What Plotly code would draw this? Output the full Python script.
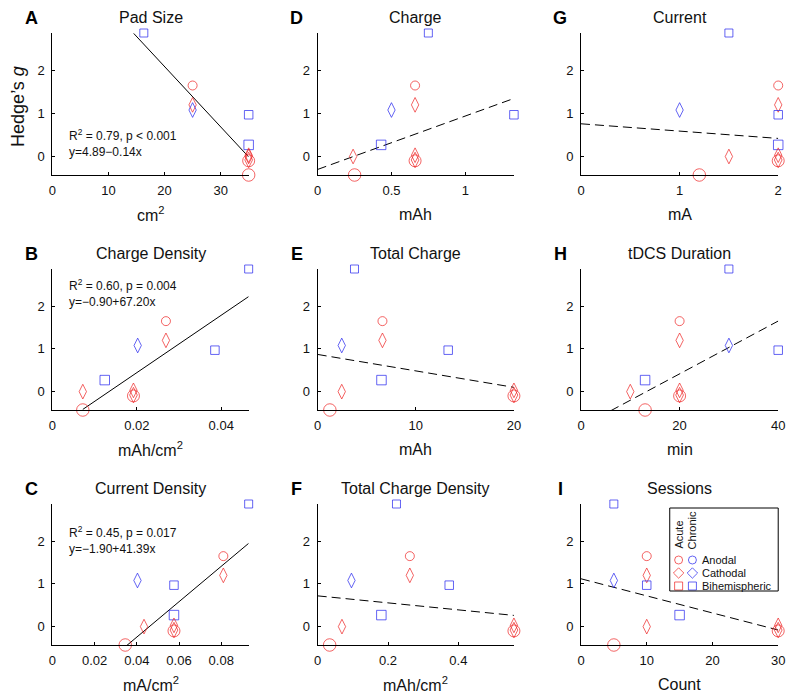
import plotly.graph_objects as go

# the page body adds an 8px margin, so the figure is 8px smaller each way
OFF = 8
W, H = 800 - OFF, 698 - OFF

# one entry per study
hedges_g = [2.87, 1.65, 1.20, 1.08, 0.97, 0.27, 0.00, 0.03, -0.10, -0.08, -0.43]
timing = ["Chronic", "Acute", "Acute", "Chronic", "Chronic", "Chronic",
          "Acute", "Acute", "Acute", "Acute", "Acute"]
montage = ["Bihemispheric", "Anodal", "Cathodal", "Cathodal", "Bihemispheric",
           "Bihemispheric", "Cathodal", "Cathodal", "Anodal", "Cathodal", "Anodal"]
marker_px = [8, 9, 10.5, 10.5, 8.5, 9.5, 10.5, 10.5, 12, 11, 12.5]

pad_size = [16.3, 25, 25, 25, 35, 35, 35, 35, 35, 35, 35]
charge_density = [0.0465, 0.0269, 0.0269, 0.0202, 0.0385, 0.0124, 0.0072, 0.0192, 0.0192, 0.0192, 0.0072]
current_density = [0.093, 0.081, 0.081, 0.0403, 0.0576, 0.0576, 0.0434, 0.0576, 0.0576, 0.0576, 0.0345]
charge = [0.75, 0.66, 0.66, 0.50, 1.33, 0.43, 0.24, 0.66, 0.66, 0.66, 0.25]
total_charge = [3.75, 6.6, 6.6, 2.45, 13.3, 6.5, 2.45, 20, 20, 20, 1.24]
total_charge_density = [0.224, 0.262, 0.262, 0.096, 0.374, 0.181, 0.069, 0.558, 0.558, 0.558, 0.034]
current = [1.5, 2, 2, 1, 2, 2, 1.5, 2, 2, 2, 1.2]
duration = [30, 20, 20, 30, 40, 13, 10, 20, 20, 20, 13]
sessions = [5, 10, 10, 5, 10, 15, 10, 30, 30, 30, 5]

# regression lines, panels A..I
fit_intercept = [4.89, -0.90, -1.90, -0.30, 0.87, 0.72, 0.76, -0.82, 1.12]
fit_slope = [-0.14, 67.20, 41.39, 1.24, -0.0385, -0.82, -0.17, 0.0618, -0.04]
fit_span = [(14.5, 35), (0.0072, 0.0465), (0.0345, 0.093), (0, 1.33), (0, 20),
            (0, 0.558), (0, 2), (6, 40), (0, 30)]
fit_stats = ["R<sup>2</sup> = 0.79, p < 0.001<br>y=4.89\u22120.14x",
             "R<sup>2</sup> = 0.60, p = 0.004<br>y=\u22120.90+67.20x",
             "R<sup>2</sup> = 0.45, p = 0.017<br>y=\u22121.90+41.39x",
             None, None, None, None, None, None]

letters = ["A", "B", "C", "D", "E", "F", "G", "H", "I"]
titles = ["Pad Size", "Charge Density", "Current Density", "Charge", "Total Charge",
          "Total Charge Density", "Current", "tDCS Duration", "Sessions"]
xlabels = ["cm<sup>2</sup>", "mAh/cm<sup>2</sup>", "mA/cm<sup>2</sup>", "mAh", "mAh",
           "mAh/cm<sup>2</sup>", "mA", "min", "Count"]
xdata = [pad_size, charge_density, current_density, charge, total_charge,
         total_charge_density, current, duration, sessions]
xranges = [(0, 35), (0, 0.0465), (0, 0.093), (0, 1.33), (0, 20), (0, 0.558), (0, 2), (0, 40), (0, 30)]
xticks = [[0, 10, 20, 30], [0, 0.02, 0.04], [0, 0.02, 0.04, 0.06, 0.08], [0, 0.5, 1],
          [0, 10, 20], [0, 0.2, 0.4], [0, 1, 2], [0, 20, 40], [0, 10, 20, 30]]
xticktext = [["0", "10", "20", "30"], ["0", "0.02", "0.04"], ["0", "0.02", "0.04", "0.06", "0.08"],
             ["0", "0.5", "1"], ["0", "10", "20"], ["0", "0.2", "0.4"], ["0", "1", "2"],
             ["0", "20", "40"], ["0", "10", "20", "30"]]
yticks = [0, 1, 2]

colors = {"Acute": "#ee2222", "Chronic": "#2222ee"}
symbols = {"Anodal": "circle-open", "Cathodal": "diamond-tall-open", "Bihemispheric": "square-open"}

# pixel layout of the 3x3 grid (page pixels)
cols_px = [(49, 248), (318, 517), (585, 785)]
rows_px = [(33, 175), (269, 410), (504, 645)]
stats_px = [(64, 143), (64, 293), (64, 540)]

FONT = "Liberation Sans, Arial, sans-serif"


def px(x):
    return (x - OFF) / W


def py(y):
    return 1 - (y - OFF) / H


def note(x, y, text, size, **kw):
    d = dict(x=px(x), y=py(y), text=text, showarrow=False, xref="paper", yref="paper",
             xanchor="center", yanchor="middle",
             font=dict(family=FONT, size=size, color="#111"))
    d.update(kw)
    return d


fig = go.Figure()
annotations = []
layout = {}

for i in range(9):
    col, row = i // 3, i % 3
    n = "" if i == 0 else str(i + 1)
    x0, x1 = cols_px[col]
    y0, y1 = rows_px[row]
    xa, ya = "x" + n, "y" + n

    layout["xaxis" + n] = dict(
        domain=[px(x0), px(x1)], range=list(xranges[i]), anchor=ya,
        showline=True, linecolor="black", linewidth=1, mirror=False,
        ticks="inside", ticklen=3, tickcolor="black",
        tickvals=xticks[i], ticktext=xticktext[i], showgrid=False, zeroline=False,
        tickfont=dict(family=FONT, size=13, color="#111"), ticklabelstandoff=3,
    )
    layout["yaxis" + n] = dict(
        domain=[py(y1), py(y0)], range=[-0.43, 2.87], anchor=xa,
        showline=True, linecolor="black", linewidth=1, mirror=False,
        ticks="inside", ticklen=3, tickcolor="black",
        tickvals=yticks, showgrid=False, zeroline=False,
        tickfont=dict(family=FONT, size=13, color="#111"), ticklabelstandoff=4,
    )

    # regression line
    lx = list(fit_span[i])
    ly = [fit_intercept[i] + fit_slope[i] * v for v in lx]
    fig.add_trace(go.Scatter(
        x=lx, y=ly, mode="lines", xaxis=xa, yaxis=ya, showlegend=False,
        line=dict(color="black", width=1, dash="solid" if fit_stats[i] else "9px,5px"),
    ))

    # study markers
    fig.add_trace(go.Scatter(
        x=xdata[i], y=hedges_g, mode="markers", xaxis=xa, yaxis=ya, showlegend=False,
        cliponaxis=False,
        marker=dict(
            symbol=[symbols[m] for m in montage],
            size=marker_px,
            color=[colors[t] for t in timing],
            line=dict(width=1, color=[colors[t] for t in timing]),
        ),
    ))

    cx = (x0 + x1) / 2
    annotations.append(note(cx, y0 - 16, titles[i], 16))
    annotations.append(note(x0 - 21, y0 - 15, "<b>" + letters[i] + "</b>", 18,
                            font=dict(family=FONT, size=18, color="black")))
    annotations.append(note(cx, y1 + 39, xlabels[i], 16))
    if fit_stats[i]:
        sx, sy = stats_px[row]
        annotations.append(note(sx, sy, fit_stats[i], 12, xanchor="left", align="left"))

annotations.append(note(14, 106, "Hedge\u2019s <i>g</i>", 18, textangle=-90))

# legend box inside panel I
leg_l, leg_r, leg_t, leg_b = 675, 785, 508, 591
legend_rows = ["Anodal", "Cathodal", "Bihemispheric"]
legend_row_y = [560, 573, 586]
legend_col_x = {"Acute": 684, "Chronic": 698}

layout["xaxis10"] = dict(domain=[px(leg_l), px(leg_r)], range=[leg_l, leg_r], anchor="y10", visible=False)
layout["yaxis10"] = dict(domain=[py(leg_b), py(leg_t)], range=[leg_b, leg_t], anchor="x10", visible=False)

for t in ["Acute", "Chronic"]:
    fig.add_trace(go.Scatter(
        x=[legend_col_x[t]] * 3, y=legend_row_y, mode="markers", xaxis="x10", yaxis="y10",
        showlegend=False, cliponaxis=False,
        marker=dict(symbol=["circle-open", "diamond-open", "square-open"], size=[8, 8, 8],
                    color=colors[t], line=dict(width=1, color=colors[t])),
    ))

for name, yy in zip(legend_rows, legend_row_y):
    annotations.append(note(706, yy, name, 11, xanchor="left"))
annotations.append(note(684, 551, "Acute", 11, textangle=-90, yanchor="bottom"))
annotations.append(note(698, 551, "Chronic", 11, textangle=-90, yanchor="bottom"))

fig.update_layout(
    width=W, height=H,
    margin=dict(l=0, r=0, t=0, b=0),
    paper_bgcolor="white", plot_bgcolor="white",
    annotations=annotations,
    shapes=[dict(type="rect", xref="paper", yref="paper", x0=px(leg_l), x1=px(leg_r),
                 y0=py(leg_b), y1=py(leg_t), line=dict(color="black", width=1))],
    **layout,
)

fig.write_html("out.html")
